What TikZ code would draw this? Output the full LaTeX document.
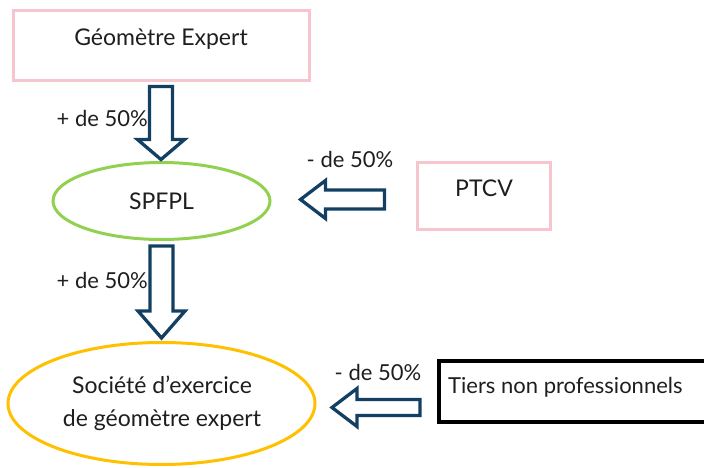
\documentclass[tikz,border=0pt]{standalone}
\usepackage{fontspec}
\setmainfont{Lato}
\usetikzlibrary{shapes.geometric}
\definecolor{pinkb}{HTML}{F7C5CE}
\definecolor{greenb}{HTML}{92D050}
\definecolor{goldb}{HTML}{FFC000}
\definecolor{navyb}{HTML}{123F62}
\definecolor{txt}{HTML}{1E1E1E}
\tikzset{
  pinkbox/.style={draw=pinkb, line width=3pt, rectangle, inner sep=0pt},
  blackbox/.style={draw=black, line width=4pt, rectangle, inner sep=0pt},
  oval/.style={ellipse, line width=3pt, inner sep=0pt},
  lbl/.style={text=txt, font=\fontsize{22}{26}\selectfont, inner sep=0pt},
  big/.style={text=txt, font=\fontsize{23}{27}\selectfont, inner sep=0pt},
  blk/.style={draw=navyb, line width=3.3pt, line join=miter, fill=white},
}
\begin{document}
\begin{tikzpicture}[x=1pt,y=-1pt]
\useasboundingbox (0,0) rectangle (704,468);
% nodes
\node[pinkbox, minimum width=296pt, minimum height=70pt] (geo) at (161,46) {};
\node[big] (geoT) at (161,39) {Géomètre Expert};
\node[oval, draw=greenb, minimum width=217pt, minimum height=77pt, big] (spfpl) at (161.5,201) {SPFPL};
\node[pinkbox, minimum width=133pt, minimum height=67pt] (ptcv) at (483.5,195.5) {};
\node[big] (ptcvT) at (484,188) {PTCV};
\node[oval, draw=goldb, minimum width=307pt, minimum height=122pt] (soc) at (161.5,403.5) {};
\node[big, align=center, font=\fontsize{23}{33}\selectfont] (socT) at (162,403.5) {Société d’exercice\\de géomètre expert};
\node[blackbox, minimum width=280pt, minimum height=61pt, anchor=west] (tiers) at (437,391.5) {};
\node[lbl, anchor=west] (tiersT) at (448,387) {Tiers non professionnels};
% labels
\node[lbl, anchor=east] (l1) at (148,118) {+ de 50\%};
\node[lbl, anchor=east] (l2) at (148,280) {+ de 50\%};
\node[lbl] (l3) at (350,159) {- de 50\%};
\node[lbl] (l4) at (378,372) {- de 50\%};
% block arrows
\coordinate (a1) at ([yshift=-4pt]geo.south);
\draw[blk] ([xshift=-11.5pt]a1) -- ++(0,53) -- ++(-12,0) -- ++(23.5,20) -- ++(23.5,-20) -- ++(-12,0) -- ++(0,-53) -- cycle;
\coordinate (a2) at ([yshift=-5pt]spfpl.south);
\draw[blk] ([xshift=-11.5pt]a2) -- ++(0,65) -- ++(-12,0) -- ++(23.5,27) -- ++(23.5,-27) -- ++(-12,0) -- ++(0,-65) -- cycle;
\coordinate (a3) at ([xshift=-31pt,yshift=5.5pt]ptcv.west);
\draw[blk] (a3) -- ++(-59,0) -- ++(0,-9.5) -- ++(-25,19) -- ++(25,19) -- ++(0,-9.5) -- ++(59,0) -- cycle;
\coordinate (a4) at ([xshift=-17pt,yshift=-8pt]tiers.west);
\draw[blk] (a4) -- ++(-63,0) -- ++(0,-11) -- ++(-25,19) -- ++(25,19) -- ++(0,-11) -- ++(63,0) -- cycle;
\end{tikzpicture}
\end{document}
